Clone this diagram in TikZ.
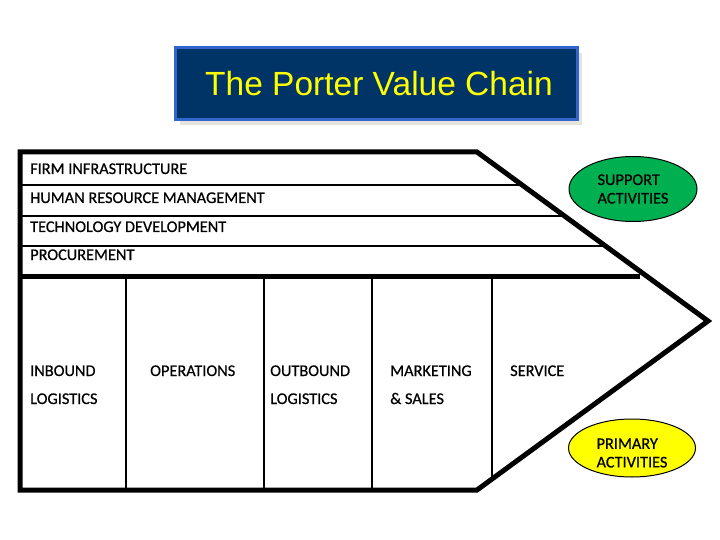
\documentclass[tikz,border=0pt]{standalone}
\usepackage{fontspec}
\setmainfont{Carlito}[FakeBold=0.6]
\newfontfamily\titlefont{Liberation Sans}
\usetikzlibrary{shapes.geometric}
\definecolor{navy}{HTML}{003366}
\definecolor{titleborder}{HTML}{3366CC}
\definecolor{shadowgray}{HTML}{E6E3DC}
\definecolor{suppgreen}{HTML}{00B050}
\definecolor{primyellow}{HTML}{FFFF00}
\begin{document}
\begin{tikzpicture}[x=1pt,y=-1pt,
  thickline/.style={line width=5pt,line join=miter,line cap=rect},
  thinline/.style={line width=2pt},
  label/.style={anchor=base west,inner sep=0pt,font=\fontsize{16.3}{18}\selectfont},
  blob/.style={ellipse,draw=black,line width=1pt,inner sep=0pt},
  blobtext/.style={inner sep=0pt,align=left,font=\fontsize{16.3}{18.5}\selectfont}]
\useasboundingbox (0,0) rectangle (720,540);
% title
\fill[shadowgray] (180,53) rectangle (582,125);
\draw[fill=navy,draw=titleborder,line width=3pt] (175,48) rectangle (577,120);
\node[text=primyellow,font=\titlefont\fontsize{33.5}{38}\selectfont,inner sep=0pt] (title) at (379,84) {The Porter Value Chain};
% chain outline
\coordinate (tl) at (20,152);
\coordinate (tr) at (477,152);
\coordinate (tip) at (708,321);
\coordinate (br) at (477,490);
\coordinate (bl) at (20,490);
% support lines
\draw[thinline] (20,185) -- (522,185);
\draw[thinline] (20,216) -- (565,216);
\draw[thinline] (20,246) -- (606,246);
\draw[thickline,line cap=butt] (20,276) -- (640,276);
% primary dividers
\draw[thinline] (126,276) -- (126,490);
\draw[thinline] (264,276) -- (264,490);
\draw[thinline] (372,276) -- (372,490);
\draw[thinline] (492,276) -- (492,479);
\draw[thickline] (tl) -- (tr) -- (tip) -- (br) -- (bl) -- cycle;
% support labels
\node[label] (firm) at (30,174) {FIRM INFRASTRUCTURE};
\node[label] (hrm) at (30,203) {HUMAN RESOURCE MANAGEMENT};
\node[label] (tech) at (30,232) {TECHNOLOGY DEVELOPMENT};
\node[label] (proc) at (30,260) {PROCUREMENT};
% primary labels
\node[label] (in1) at (30,376) {INBOUND};
\node[label] (in2) at (30,404) {LOGISTICS};
\node[label] (ops) at (150,376) {OPERATIONS};
\node[label] (out1) at (270,376) {OUTBOUND};
\node[label] (out2) at (270,404) {LOGISTICS};
\node[label] (mk1) at (390,376) {MARKETING};
\node[label] (mk2) at (390,404) {\& SALES};
\node[label] (serv) at (510,376) {SERVICE};
% ellipses
\node[blob,fill=suppgreen,minimum width=128pt,minimum height=65pt] (support) at (633,189) {};
\node[blobtext] (supporttext) at (633,189) {SUPPORT\\ACTIVITIES};
\node[blob,fill=primyellow,minimum width=127pt,minimum height=58pt] (primary) at (632,448) {};
\node[blobtext] (primarytext) at (632,453) {PRIMARY\\ACTIVITIES};
\end{tikzpicture}
\end{document}
